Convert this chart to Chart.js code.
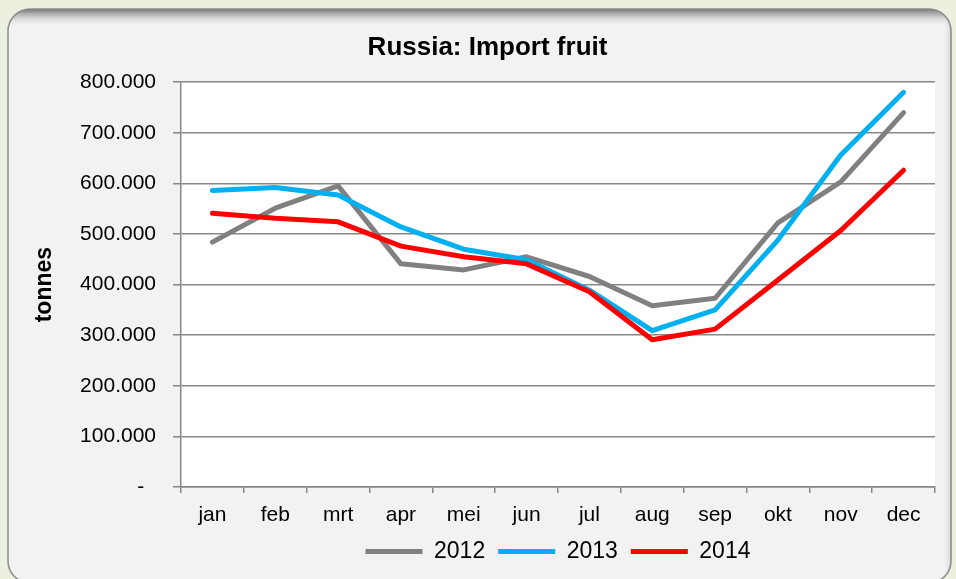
<!DOCTYPE html>
<html>
<head>
	<title>Russia: Import fruit</title>
	<script src="https://cdn.jsdelivr.net/npm/chart.js@4.4.1/dist/chart.umd.min.js"></script>
	<style>
		html, body { margin: 0; padding: 0; background: #ebf1de; }
		#wrap { width: 956px; height: 579px; }
	</style>
</head>
<body>
	<div id="wrap"><canvas id="chart1" width="956" height="579"></canvas></div>
<script>
	// chart data
	var months = ['jan', 'feb', 'mrt', 'apr', 'mei', 'jun', 'jul', 'aug', 'sep', 'okt', 'nov', 'dec'];
	var years = ['2012', '2013', '2014'];
	var import2012 = [484000, 551000, 595000, 441000, 429000, 455000, 416000, 358000, 373000, 522000, 603000, 740000];
	var import2013 = [586000, 592000, 577000, 514000, 470000, 449000, 389000, 309000, 350000, 488000, 656000, 780000];
	var import2014 = [541000, 531000, 524000, 476000, 455000, 441000, 386000, 291000, 312000, 409000, 507000, 626000];
	var yTicks = [0, 100000, 200000, 300000, 400000, 500000, 600000, 700000, 800000];

	var gridGray = '#878787';
	var fontFamily = 'Liberation Sans, Arial, sans-serif';

	// draws the rounded grey frame and white plot area behind the chart
	var framePlugin = {
		id: 'frame',
		beforeDraw: function (chart) {
			var ctx = chart.ctx;
			var a = chart.chartArea;
			ctx.save();
			ctx.fillStyle = '#ebf1de';
			ctx.fillRect(0, 0, chart.width, chart.height);

			var x0 = 8, y0 = 9, x1 = 951, y1 = 583, r = 22;
			ctx.beginPath();
			ctx.moveTo(x0 + r, y0);
			ctx.lineTo(x1 - r, y0);
			ctx.arcTo(x1, y0, x1, y0 + r, r);
			ctx.lineTo(x1, y1 - r);
			ctx.arcTo(x1, y1, x1 - r, y1, r);
			ctx.lineTo(x0 + r, y1);
			ctx.arcTo(x0, y1, x0, y1 - r, r);
			ctx.lineTo(x0, y0 + r);
			ctx.arcTo(x0, y0, x0 + r, y0, r);
			ctx.closePath();
			ctx.fillStyle = '#f2f2f2';
			ctx.fill();

			ctx.save();
			ctx.clip();
			var g = ctx.createLinearGradient(0, y0, 0, y0 + 18);
			g.addColorStop(0, 'rgba(115,115,115,1)');
			g.addColorStop(1, 'rgba(242,242,242,0)');
			ctx.fillStyle = g;
			ctx.fillRect(x0, y0, x1 - x0, 18);
			var g2 = ctx.createLinearGradient(x1 - 8, 0, x1, 0);
			g2.addColorStop(0, 'rgba(242,242,242,0)');
			g2.addColorStop(1, 'rgba(210,210,210,1)');
			ctx.fillStyle = g2;
			ctx.fillRect(x1 - 8, y0, 8, y1 - y0);
			ctx.restore();

			ctx.lineWidth = 1.5;
			ctx.strokeStyle = '#8a8a8a';
			ctx.stroke();

			ctx.fillStyle = '#ffffff';
			ctx.fillRect(a.left, a.top, a.right - a.left, a.bottom - a.top);
			ctx.restore();
		}
	};

	var ctx = document.getElementById('chart1');
	var chart = new Chart(ctx, {
		type: 'line',
		data: {
			labels: months,
			datasets: [
				{ label: years[0], data: import2012, borderColor: '#808080', backgroundColor: '#808080', borderWidth: 5, order: 3 },
				{ label: years[1], data: import2013, borderColor: '#00b0f0', backgroundColor: '#00b0f0', borderWidth: 5, order: 2 },
				{ label: years[2], data: import2014, borderColor: '#ff0000', backgroundColor: '#ff0000', borderWidth: 5, order: 1 }
			]
		},
		options: {
			responsive: false,
			animation: false,
			layout: { padding: { left: 40, right: 21, top: 0, bottom: 6 } },
			elements: {
				line: { tension: 0, borderCapStyle: 'round', borderJoinStyle: 'round', fill: false },
				point: { radius: 0, hoverRadius: 0 }
			},
			plugins: {
				tooltip: { enabled: false },
				title: {
					display: true,
					text: 'Russia: Import fruit',
					color: '#000',
					font: { family: fontFamily, size: 26, weight: 'bold' },
					padding: { top: 32, bottom: 19 }
				},
				legend: {
					position: 'bottom',
					fullSize: false,
					labels: {
						color: '#000',
						font: { family: fontFamily, size: 23 },
						usePointStyle: true,
						pointStyle: 'line',
						pointStyleWidth: 57,
						padding: 13,
						sort: function (a, b) { return a.datasetIndex - b.datasetIndex; }
					}
				}
			},
			scales: {
				x: {
					offset: true,
					grid: { offset: true, drawOnChartArea: false, color: gridGray, lineWidth: 1.5, tickLength: 6 },
					border: { color: gridGray, width: 1.5 },
					ticks: {
						color: '#000',
						font: { family: fontFamily, size: 21 },
						padding: 10,
						maxRotation: 0
					},
					afterFit: function (scale) { scale.height = 40; }
				},
				y: {
					min: 0,
					max: 800000,
					afterBuildTicks: function (scale) {
						scale.ticks = yTicks.map(function (v) { return { value: v }; });
					},
					grid: { color: gridGray, lineWidth: 1.5, tickLength: 8 },
					border: { color: gridGray, width: 1.5 },
					ticks: {
						color: '#000',
						font: { family: fontFamily, size: 21 },
						padding: 17,
						callback: function (value) {
							// zero is shown as a dash, like an accounting format
							if (value === 0) return '-  ';
							return value.toLocaleString('de-DE');
						}
					},
					title: {
						display: true,
						text: 'tonnes',
						color: '#000',
						font: { family: fontFamily, size: 23, weight: 'bold' },
						padding: { top: -9, bottom: 0 }
					},
					afterFit: function (scale) { scale.width = 141; }
				}
			}
		},
		plugins: [framePlugin]
	});
</script>
</body>
</html>
